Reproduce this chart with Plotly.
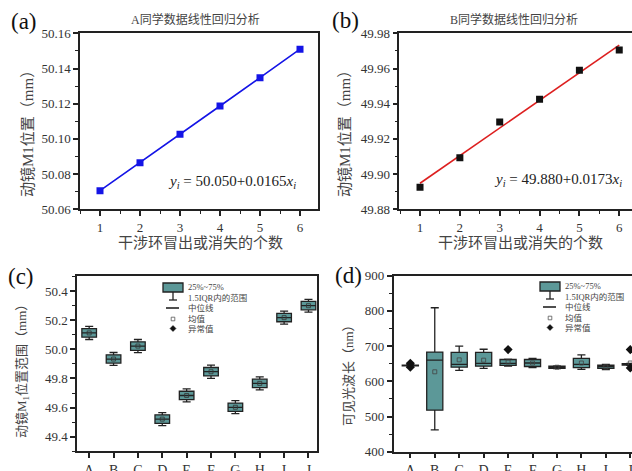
import plotly.graph_objects as go

W, H = 632, 471

# ---------------- data ----------------
x_a = [1, 2, 3, 4, 5, 6]
y_a = [50.0706, 50.0865, 50.1026, 50.1187, 50.1348, 50.1510]

x_b = [1, 2, 3, 4, 5, 6]
y_b = [49.8925, 49.9093, 49.9296, 49.9425, 49.9590, 49.9705]
fit_b_x = [1, 6]
fit_b_y = [49.8948, 49.9733]

categories = ["A", "B", "C", "D", "E", "F", "G", "H", "I", "J"]

c_lo = [50.067, 49.889, 49.977, 49.476, 49.639, 49.801, 49.558, 49.721, 50.172, 50.255]
c_q1 = [50.083, 49.905, 49.993, 49.492, 49.655, 49.817, 49.574, 49.737, 50.189, 50.271]
c_med = [50.112, 49.933, 50.022, 49.521, 49.683, 49.846, 49.602, 49.766, 50.217, 50.299]
c_q3 = [50.141, 49.962, 50.051, 49.550, 49.712, 49.875, 49.631, 49.795, 50.246, 50.328]
c_hi = [50.157, 49.978, 50.067, 49.566, 49.728, 49.891, 49.647, 49.811, 50.262, 50.343]
c_mean = [50.112, 49.933, 50.022, 49.521, 49.683, 49.846, 49.602, 49.766, 50.217, 50.299]

d_lo = [643, 462, 631, 637, 643, 639, 636, 634, 633, 645]
d_q1 = [644, 518, 640, 643, 645, 642, 637, 639, 637, 646]
d_med = [645, 660, 648, 651, 651, 652, 640, 648, 642, 648]
d_q3 = [646, 683, 682, 682, 662, 662, 643, 665, 646, 650]
d_hi = [647, 809, 700, 691, 663, 665, 644, 675, 648, 651]
d_mean = [645, 627, 661, 660, 655, 652, 640, 652, 641, 652]
d_out_x = ["A", "A", "E", "J", "J"]
d_out_y = [651, 640, 690, 690, 638]

# ---------------- styles ----------------
SERIF = "Liberation Serif, Times New Roman, serif"
CJK = "Liberation Serif, Noto Sans CJK SC, serif"
TEAL = "#5c9898"
AX = "#222222"


def px(x):
    return x / W


def py(y):
    return 1 - y / H


fig = go.Figure()

# (a)
fig.add_trace(go.Scatter(x=x_a, y=y_a, mode="lines+markers",
                         line=dict(color="#1414e6", width=1.6),
                         marker=dict(symbol="square", size=7, color="#1414e6"),
                         xaxis="x", yaxis="y", showlegend=False))
# (b)
fig.add_trace(go.Scatter(x=fit_b_x, y=fit_b_y, mode="lines",
                         line=dict(color="#dd1f1f", width=1.6),
                         xaxis="x2", yaxis="y2", showlegend=False))
fig.add_trace(go.Scatter(x=x_b, y=y_b, mode="markers",
                         marker=dict(symbol="square", size=7, color="#111111"),
                         xaxis="x2", yaxis="y2", showlegend=False))
# (c)
fig.add_trace(go.Box(x=categories, q1=c_q1, median=c_med, q3=c_q3,
                     lowerfence=c_lo, upperfence=c_hi,
                     fillcolor=TEAL, line=dict(color=AX, width=1.3),
                     width=0.6, whiskerwidth=0.55, boxpoints=False,
                     xaxis="x3", yaxis="y3", showlegend=False))
fig.add_trace(go.Scatter(x=categories, y=c_mean, mode="markers",
                         marker=dict(symbol="square-open", size=4, color="#333",
                                     line=dict(width=0.8)),
                         xaxis="x3", yaxis="y3", showlegend=False))
# (d)
fig.add_trace(go.Box(x=categories, q1=d_q1, median=d_med, q3=d_q3,
                     lowerfence=d_lo, upperfence=d_hi,
                     fillcolor=TEAL, line=dict(color=AX, width=1.3),
                     width=0.66, whiskerwidth=0.5, boxpoints=False,
                     xaxis="x4", yaxis="y4", showlegend=False))
fig.add_trace(go.Scatter(x=categories, y=d_mean, mode="markers",
                         marker=dict(symbol="square-open", size=4, color="#444",
                                     line=dict(width=0.8)),
                         xaxis="x4", yaxis="y4", showlegend=False))
fig.add_trace(go.Scatter(x=d_out_x, y=d_out_y, mode="markers",
                         marker=dict(symbol="diamond", size=7, color="#111"),
                         xaxis="x4", yaxis="y4", showlegend=False))

tickfont = dict(family=SERIF, size=13, color="#333")


def axis(domain, rng, anchor, mirror=True, **kw):
    d = dict(domain=domain, range=rng, anchor=anchor, showgrid=False,
             zeroline=False, showline=True, linecolor=AX, linewidth=1.5,
             mirror=mirror, ticks="outside", ticklen=5, tickwidth=1.5,
             tickcolor=AX, tickfont=tickfont, automargin=False)
    d.update(kw)
    return d


ya_dom = [py(209.3), py(33.3)]
yc_dom = [py(451.3), py(276.4)]

fig.update_layout(
    width=W, height=H, margin=dict(l=0, r=0, t=0, b=0),
    paper_bgcolor="white", plot_bgcolor="white",
    xaxis=axis([px(80), px(318)], [0.5, 6.45], "y", dtick=1, tick0=1,
               minor=dict(ticks="outside", ticklen=3, tickwidth=1.2, dtick=0.5, tickcolor=AX)),
    yaxis=axis(ya_dom, [50.06, 50.16], "x", dtick=0.02, tickformat=".2f",
               minor=dict(ticks="outside", ticklen=3, tickwidth=1.2, dtick=0.01, tickcolor=AX)),
    xaxis2=axis([px(399.3), 1], [0.48, 6.32], "y2", dtick=1, tick0=1,
                minor=dict(ticks="outside", ticklen=3, tickwidth=1.2, dtick=0.5, tickcolor=AX)),
    yaxis2=axis(ya_dom, [49.88, 49.98], "x2", mirror=False, dtick=0.02, tickformat=".2f",
                minor=dict(ticks="outside", ticklen=3, tickwidth=1.2, dtick=0.01, tickcolor=AX)),
    xaxis3=axis([px(77), px(317)], [-0.5, 9.35], "y3", type="category",
                categoryorder="array", categoryarray=categories,
                tickfont=dict(family=SERIF, size=14, color="#333")),
    yaxis3=axis(yc_dom, [49.3, 50.5], "x3", dtick=0.2, tick0=49.4, tickformat=".1f",
                minor=dict(ticks="outside", ticklen=3, tickwidth=1.2, dtick=0.1, tickcolor=AX)),
    xaxis4=axis([px(393.7), 1], [-0.68, 9.07], "y4", mirror=True, type="category",
                categoryorder="array", categoryarray=categories,
                tickfont=dict(family=SERIF, size=14, color="#333")),
    yaxis4=axis([py(451.7), py(275.7)], [400, 900], "x4", mirror=False, dtick=100,
                minor=dict(ticks="outside", ticklen=3, tickwidth=1.2, dtick=50, tickcolor=AX)),
)

ann = []


def text(x, y, s, size, family=CJK, color="#333", angle=0, xanchor="center"):
    ann.append(dict(x=px(x), y=py(y), xref="paper", yref="paper", text=s,
                    showarrow=False, textangle=angle, xanchor=xanchor, yanchor="middle",
                    font=dict(family=family, size=size, color=color)))


# panel letters
text(24, 22, "(a)", 23, SERIF, "#111")
text(345, 21, "(b)", 23, SERIF, "#111")
text(21, 276, "(c)", 23, SERIF, "#111")
text(349, 275, "(d)", 23, SERIF, "#111")

# titles
text(195, 20, "A同学数据线性回归分析", 12, CJK, "#444")
text(514, 20, "B同学数据线性回归分析", 12, CJK, "#444")

# axis titles
text(200, 243, "干涉环冒出或消失的个数", 15, CJK, "#444")
text(520, 243, "干涉环冒出或消失的个数", 15, CJK, "#444")
text(28, 130, "动镜M1位置（mm）", 15, CJK, "#444", angle=-90)
text(345, 130, "动镜M1位置（mm）", 15, CJK, "#444", angle=-90)
text(22, 368, "动镜M<sub>1</sub>位置范围（mm）", 13, CJK, "#444", angle=-90)
text(348, 372, "可见光波长（nm）", 13, CJK, "#444", angle=-90)

# equations
text(232, 182, "<i>y<sub>i</sub></i> = 50.050+0.0165<i>x<sub>i</sub></i>", 15, SERIF, "#222")
text(558, 180, "<i>y<sub>i</sub></i> = 49.880+0.0173<i>x<sub>i</sub></i>", 15, SERIF, "#222")

# custom legends
shapes = []


def legend(x0, y0):
    # x0: left of box icon, y0: top of box icon
    cx = x0 + 10
    shapes.append(dict(type="rect", xref="paper", yref="paper",
                       x0=px(x0), x1=px(x0 + 20), y0=py(y0 + 9), y1=py(y0),
                       fillcolor=TEAL, line=dict(color=AX, width=1.3)))
    shapes.append(dict(type="line", xref="paper", yref="paper",
                       x0=px(cx), x1=px(cx), y0=py(y0 + 9), y1=py(y0 + 17),
                       line=dict(color=AX, width=1.3)))
    shapes.append(dict(type="line", xref="paper", yref="paper",
                       x0=px(cx - 4), x1=px(cx + 4), y0=py(y0 + 17), y1=py(y0 + 17),
                       line=dict(color=AX, width=1.3)))
    shapes.append(dict(type="line", xref="paper", yref="paper",
                       x0=px(x0 + 3), x1=px(x0 + 16), y0=py(y0 + 25), y1=py(y0 + 25),
                       line=dict(color=AX, width=1.6)))
    shapes.append(dict(type="rect", xref="paper", yref="paper",
                       x0=px(cx - 1.8), x1=px(cx + 1.8), y0=py(y0 + 37.8), y1=py(y0 + 34.2),
                       line=dict(color="#555", width=0.8)))
    shapes.append(dict(type="path", xref="paper", yref="paper",
                       path=f"M {px(cx)} {py(y0 + 42.5)} L {px(cx + 3)} {py(y0 + 45.5)} "
                            f"L {px(cx)} {py(y0 + 48.5)} L {px(cx - 3)} {py(y0 + 45.5)} Z",
                       fillcolor="#111", line=dict(color="#111", width=0.5)))
    tx = x0 + 23
    labels = ["25%~75%", "1.5IQR内的范围", "中位线", "均值", "异常值"]
    rows = [y0 + 4, y0 + 14.5, y0 + 25, y0 + 35.5, y0 + 46]
    for s, r in zip(labels, rows):
        text(tx, r, s, 8.5, CJK, "#444", xanchor="left")


legend(163, 283)
legend(540, 282)

fig.update_layout(annotations=ann, shapes=shapes)
fig.write_html("out.html", config=dict(displayModeBar=False))

# remove the default page margin so the figure sits at the window's top-left
with open("out.html", "r", encoding="utf-8") as f:
    html = f.read()
html = html.replace("<head>", "<head><style>html,body{margin:0;padding:0;overflow:hidden;}</style>", 1)
with open("out.html", "w", encoding="utf-8") as f:
    f.write(html)
